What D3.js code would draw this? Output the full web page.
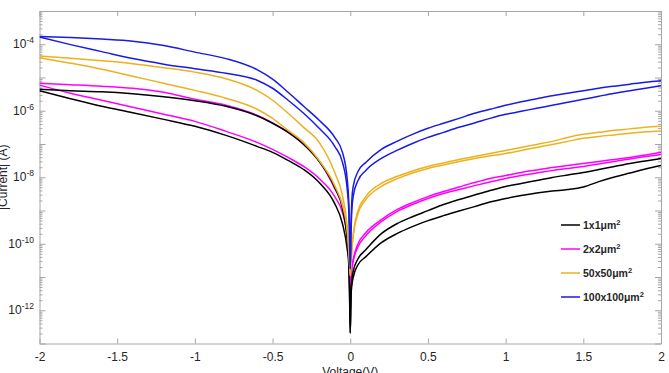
<!DOCTYPE html>
<html><head><meta charset="utf-8">
<script src="https://cdn.jsdelivr.net/npm/d3@7"></script>
<style>
body{margin:0;background:#fff;}
svg text{font-family:"Liberation Sans",Arial,Helvetica,sans-serif;}
</style>
</head><body>
<svg id="chart" width="669" height="373"></svg>
<script>
// ---- data ----
const voltage = [-2, -1.8, -1.6, -1.4, -1.2, -1.0, -0.8, -0.6, -0.5, -0.4, -0.3, -0.2, -0.1, -0.05, -0.02, -0.01, -0.005, 0,
  0.005, 0.01, 0.02, 0.05, 0.1, 0.2, 0.3, 0.4, 0.5, 0.6, 0.7, 0.8, 0.9, 1.0, 1.1, 1.2, 1.3, 1.4, 1.5, 1.6, 1.7, 1.8, 1.9, 2.0];

const current_1x1_a = [4.4e-6, 4.0e-6, 3.73e-6, 3.24e-6, 2.64e-6, 2.0e-6, 1.36e-6, 7.05e-7, 4.2e-7, 2.24e-7, 9.7e-8, 2.98e-8, 4.9e-9, 1.14e-9, 1.42e-10, 3.54e-11, 5.4e-12, 2.07e-13,
  3.84e-12, 7.7e-12, 1.54e-11, 3.54e-11, 6.6e-11, 2.01e-10, 4.0e-10, 6.5e-10, 9.9e-10, 1.51e-9, 2.13e-9, 2.92e-9, 3.98e-9, 5.3e-9, 6.5e-9, 8.0e-9, 9.8e-9, 1.17e-8, 1.39e-8, 1.71e-8, 2.11e-8, 2.60e-8, 3.09e-8, 3.68e-8];
const current_1x1_b = [4.0e-6, 2.29e-6, 1.36e-6, 8.7e-7, 5.5e-7, 3.40e-7, 1.82e-7, 8.5e-8, 5.6e-8, 3.2e-8, 1.71e-8, 6.95e-9, 1.61e-9, 4.0e-10, 7.1e-11, 2.50e-11, 3.84e-12, 2.07e-13,
  2.71e-12, 5.4e-12, 1.01e-11, 2.33e-11, 4.06e-11, 1.08e-10, 2.01e-10, 3.27e-10, 4.95e-10, 7.0e-10, 9.6e-10, 1.31e-9, 1.79e-9, 2.29e-9, 2.81e-9, 3.35e-9, 3.85e-9, 4.27e-9, 5.1e-9, 7.4e-9, 1.02e-8, 1.34e-8, 1.77e-8, 2.26e-8];

const current_2x2_a = [6.7e-6, 6.1e-6, 5.5e-6, 4.75e-6, 3.6e-6, 2.21e-6, 1.46e-6, 7.3e-7, 4.3e-7, 2.3e-7, 1.0e-7, 3.1e-8, 4.6e-9, 1.41e-9, 2.01e-10, 6.2e-11, 1.54e-11, 7.8e-13,
  7.7e-12, 1.77e-11, 3.54e-11, 1.00e-10, 2.15e-10, 5.3e-10, 1.06e-9, 1.73e-9, 2.62e-9, 3.72e-9, 5.1e-9, 6.95e-9, 9.2e-9, 1.13e-8, 1.39e-8, 1.66e-8, 1.97e-8, 2.26e-8, 2.60e-8, 2.98e-8, 3.43e-8, 3.94e-8, 4.7e-8, 5.6e-8];
const current_2x2_b = [5.9e-6, 3.36e-6, 2.07e-6, 1.27e-6, 7.8e-7, 4.8e-7, 2.40e-7, 1.12e-7, 6.9e-8, 3.94e-8, 2.11e-8, 9.2e-9, 2.62e-9, 8.6e-10, 1.75e-10, 4.36e-11, 1.09e-11, 7.8e-13,
  6.7e-12, 1.54e-11, 3.08e-11, 8.1e-11, 1.75e-10, 4.6e-10, 9.3e-10, 1.51e-9, 2.29e-9, 3.24e-9, 4.27e-9, 5.6e-9, 7.2e-9, 9.2e-9, 1.13e-8, 1.34e-8, 1.60e-8, 1.84e-8, 2.11e-8, 2.51e-8, 2.98e-8, 3.56e-8, 4.2e-8, 4.85e-8];

const current_50x50_a = [4.4e-5, 3.82e-5, 3.21e-5, 2.61e-5, 1.98e-5, 1.45e-5, 9.2e-6, 4.1e-6, 2.07e-6, 8.4e-7, 3.17e-7, 1.12e-7, 1.39e-8, 2.81e-9, 3.5e-10, 8.7e-11, 3.08e-11, 1.09e-11,
  3.08e-11, 7.1e-11, 2.15e-10, 9.9e-10, 2.62e-9, 6.5e-9, 1.05e-8, 1.55e-8, 2.11e-8, 2.69e-8, 3.43e-8, 4.2e-8, 5.2e-8, 6.4e-8, 7.9e-8, 9.7e-8, 1.20e-7, 1.58e-7, 1.95e-7, 2.24e-7, 2.57e-7, 2.85e-7, 3.17e-7, 3.40e-7];
const current_50x50_b = [3.95e-5, 2.70e-5, 1.78e-5, 1.09e-5, 6.7e-6, 4.1e-6, 2.38e-6, 1.11e-6, 5.9e-7, 2.57e-7, 1.12e-7, 3.2e-8, 5.6e-9, 1.41e-9, 2.48e-10, 6.2e-11, 2.68e-11, 1.09e-11,
  2.68e-11, 5.75e-11, 1.75e-10, 8.1e-10, 2.13e-9, 5.3e-9, 8.9e-9, 1.34e-8, 1.84e-8, 2.34e-8, 2.98e-8, 3.68e-8, 4.4e-8, 5.2e-8, 6.4e-8, 7.9e-8, 9.7e-8, 1.20e-7, 1.48e-7, 1.69e-7, 1.88e-7, 2.09e-7, 2.32e-7, 2.48e-7];

const current_100x100_a = [1.70e-4, 1.59e-4, 1.43e-4, 1.24e-4, 9.1e-5, 5.8e-5, 3.7e-5, 1.72e-5, 8.9e-6, 3.6e-6, 1.36e-6, 5.15e-7, 1.58e-7, 5.6e-8, 9.2e-9, 1.99e-9, 3.5e-10, 1.77e-11,
  3.5e-10, 1.99e-9, 5.6e-9, 1.49e-8, 2.79e-8, 6.9e-8, 1.20e-7, 1.95e-7, 2.96e-7, 4.2e-7, 5.9e-7, 8.4e-7, 1.11e-6, 1.46e-6, 1.86e-6, 2.29e-6, 2.82e-6, 3.36e-6, 4.0e-6, 4.75e-6, 5.5e-6, 6.3e-6, 7.2e-6, 8.0e-6];
const current_100x100_b = [1.64e-4, 9.75e-5, 6.0e-5, 3.7e-5, 2.52e-5, 1.84e-5, 1.35e-5, 8.3e-6, 4.75e-6, 2.07e-6, 8.4e-7, 2.96e-7, 8.5e-8, 2.79e-8, 4.6e-9, 1.14e-9, 2.15e-10, 1.77e-11,
  2.15e-10, 9.9e-10, 2.81e-9, 8.0e-9, 1.60e-8, 3.68e-8, 6.4e-8, 1.04e-7, 1.58e-7, 2.24e-7, 3.17e-7, 4.3e-7, 5.9e-7, 7.8e-7, 9.6e-7, 1.19e-6, 1.46e-6, 1.80e-6, 2.21e-6, 2.73e-6, 3.36e-6, 4.0e-6, 4.75e-6, 5.7e-6];

const seriesNames = ["1x1μm", "2x2μm", "50x50μm", "100x100μm"];
const seriesColors = ["#000000", "#ff00ff", "#EDB120", "#1a1ae6"];
const xTicks = [-2, -1.5, -1, -0.5, 0, 0.5, 1, 1.5, 2];
const xTickLabels = ["-2", "-1.5", "-1", "-0.5", "0", "0.5", "1", "1.5", "2"];
const yLabelExps = [-12, -10, -8, -6, -4];
const xTitle = "Voltage(V)";
const yTitle = "|Current| (A)";

const seriesCurves = [
  [current_2x2_a, current_2x2_b],
  [current_1x1_a, current_1x1_b],
  [current_50x50_a, current_50x50_b],
  [current_100x100_a, current_100x100_b]
];
const curveColorIndex = [1, 0, 2, 3];

// ---- layout ----
const L = 39.5, R = 661, T = 11, B = 343.5;
const axisColor = "#a6a6a6", textColor = "#262626";
const x = d3.scaleLinear().domain([-2, 2]).range([L, R]);
const y = d3.scaleLog().domain([1e-13, 1e-3]).range([B, T]);
const svg = d3.select("#chart");

svg.append("defs").append("clipPath").attr("id", "clip")
  .append("rect").attr("x", L).attr("y", T).attr("width", R - L).attr("height", B - T);

// axes
const isMajor = d => Math.abs(Math.log10(d) - Math.round(Math.log10(d))) < 1e-9;
const allY = y.ticks(20);

const gB = svg.append("g").attr("transform", `translate(0,${B})`)
  .call(d3.axisBottom(x).tickValues(xTicks).tickFormat((d, i) => xTickLabels[i]).tickSizeInner(-5).tickSizeOuter(0).tickPadding(9));
const gT = svg.append("g").attr("transform", `translate(0,${T})`)
  .call(d3.axisTop(x).tickValues(xTicks).tickFormat("").tickSizeInner(-5).tickSizeOuter(0));
const gL = svg.append("g").attr("transform", `translate(${L},0)`)
  .call(d3.axisLeft(y).tickValues(allY).tickFormat("").tickSizeInner(-3).tickSizeOuter(0));
gL.selectAll(".tick line").attr("x2", d => isMajor(d) ? 6 : 3);
const gR = svg.append("g").attr("transform", `translate(${R},0)`)
  .call(d3.axisRight(y).tickValues(allY).tickFormat("").tickSizeInner(-3).tickSizeOuter(0));
gR.selectAll(".tick line").attr("x2", d => isMajor(d) ? -6 : -3);

[gB, gT, gL, gR].forEach(g => {
  g.select(".domain").attr("stroke", axisColor);
  g.selectAll(".tick line").attr("stroke", axisColor);
  g.selectAll("text").attr("fill", textColor).style("font-size", "12px");
});

// y tick labels 10^n
const yl = svg.append("g").selectAll("text").data(yLabelExps).join("text")
  .attr("x", 34).attr("y", d => y(Math.pow(10, d))).attr("dy", "0.35em")
  .attr("text-anchor", "end").attr("fill", textColor).style("font-size", "12px");
yl.append("tspan").text("10");
yl.append("tspan").attr("dy", "-5").style("font-size", "8.5px").text(d => String(d));

// titles
svg.append("text").attr("x", x(0)).attr("y", 376).attr("text-anchor", "middle")
  .attr("fill", textColor).style("font-size", "12px").text(xTitle);
svg.append("text").attr("transform", `translate(7,${(T + B) / 2}) rotate(-90)`).attr("text-anchor", "middle")
  .attr("fill", textColor).style("font-size", "12px").text(yTitle);

// lines
const line = d3.line().x((d, i) => x(voltage[i])).y(d => y(d)).curve(d3.curveMonotoneX);
const plot = svg.append("g").attr("clip-path", "url(#clip)");
seriesCurves.forEach((curves, si) => {
  curves.forEach(c => {
    plot.append("path").datum(c).attr("d", line).attr("fill", "none")
      .attr("stroke", seriesColors[curveColorIndex[si]]).attr("stroke-width", 1.5).attr("stroke-linejoin", "round");
  });
});

// legend
const legendY = [225, 249, 273, 297];
const lg = svg.append("g");
seriesNames.forEach((nm, i) => {
  lg.append("line").attr("x1", 561).attr("x2", 580).attr("y1", legendY[i]).attr("y2", legendY[i])
    .attr("stroke", seriesColors[i]).attr("stroke-width", 1.5);
  const t = lg.append("text").attr("x", 583).attr("y", legendY[i]).attr("dy", "0.35em")
    .attr("fill", textColor).style("font-size", "10.5px").style("font-weight", "bold");
  t.append("tspan").text(nm);
  t.append("tspan").attr("dy", "-4").style("font-size", "7.5px").text("2");
});
</script>
</body></html>
